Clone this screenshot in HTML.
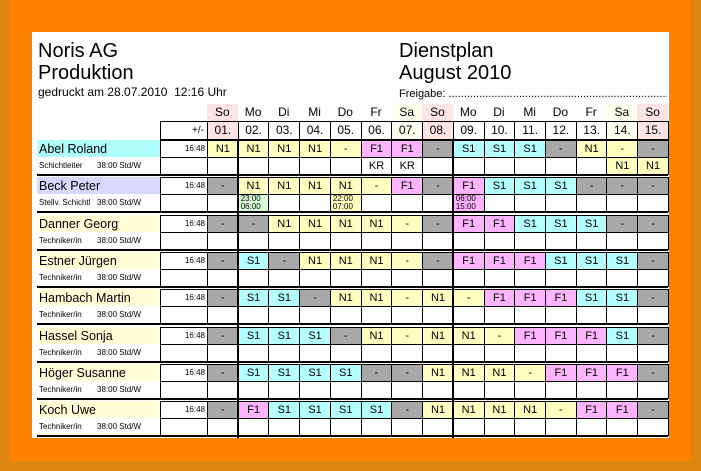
<!DOCTYPE html>
<html><head><meta charset="utf-8">
<style>
body{margin:0;width:701px;height:471px;background:#dc870f;position:relative;overflow:hidden;font-family:"Liberation Sans",sans-serif;}
#orange{position:absolute;left:10px;top:0px;width:681px;height:461px;background:#ff8200;}
#page{position:absolute;left:32px;top:32px;width:637px;height:406px;background:#fff;overflow:hidden;}
.a{position:absolute;box-sizing:border-box;}
.c{position:absolute;box-sizing:border-box;text-align:center;font-size:11px;color:#000;}
</style></head><body>
<div id="orange"></div>
<div id="page">
<div class="a" style="left:6px;top:8px;font-size:20px;line-height:22px">Noris AG<br>Produktion</div>
<div class="a" style="left:6px;top:53px;font-size:12px">gedruckt am 28.07.2010&nbsp; 12:16 Uhr</div>
<div class="a" style="left:367px;top:8px;font-size:20px;line-height:22px">Dienstplan<br>August 2010</div>
<div class="a" style="left:367px;top:56px;font-size:11px;width:268px;white-space:nowrap;overflow:hidden">Freigabe: ..............................................................................</div>
</div>
<script>
const days=["So","Mo","Di","Mi","Do","Fr","Sa","So","Mo","Di","Mi","Do","Fr","Sa","So"];
const dates=["01.","02.","03.","04.","05.","06.","07.","08.","09.","10.","11.","12.","13.","14.","15."];
const names=["Abel Roland","Beck Peter","Danner Georg","Estner Jürgen","Hambach Martin","Hassel Sonja","Höger Susanne","Koch Uwe"];
const roles=["Schichtleiter","Stellv. Schichtl","Techniker/in","Techniker/in","Techniker/in","Techniker/in","Techniker/in","Techniker/in"];
const balances=["16:48","16:48","16:48","16:48","16:48","16:48","16:48","16:48"];
// "-" = off (gray), "x" = rest dash (yellow)
const shifts=[
["N1","N1","N1","N1","x","F1","F1","-","S1","S1","S1","-","N1","x","-"],
["-","N1","N1","N1","N1","x","F1","-","F1","S1","S1","S1","-","-","-"],
["-","-","N1","N1","N1","N1","x","-","F1","F1","S1","S1","S1","-","-"],
["-","S1","-","N1","N1","N1","x","-","F1","F1","F1","S1","S1","S1","-"],
["-","S1","S1","-","N1","N1","x","N1","x","F1","F1","F1","S1","S1","-"],
["-","S1","S1","S1","-","N1","x","N1","N1","x","F1","F1","F1","S1","-"],
["-","S1","S1","S1","S1","-","-","N1","N1","N1","x","F1","F1","F1","-"],
["-","F1","S1","S1","S1","S1","-","N1","N1","N1","N1","x","F1","F1","-"]];
const notes=[[0,5,"KR"],[0,6,"KR"],[0,13,"N1"],[0,14,"N1"],[1,1,"23:00 06:00"],[1,4,"22:00 07:00"],[1,8,"06:00 15:00"]];
const page=document.getElementById('page');
const OX=-32,OY=-32,X0=207,CW=30.73,HX=160;
const col={N1:"#ffffc0",S1:"#b4ffff",F1:"#ffb4ff","-":"#a8a8a8",x:"#ffffc0",KR:"#fff"};
const nameBg=["#b0ffff","#d8d8ff","#ffffd8","#ffffd8","#ffffd8","#ffffd8","#ffffd8","#ffffd8"];
function mk(x,y,w,h,css,txt){const d=document.createElement('div');d.className='c';d.style.cssText=`left:${x+OX}px;top:${y+OY}px;width:${w}px;height:${h}px;`+css;if(txt!==undefined)d.innerHTML=txt;page.appendChild(d);return d;}
function xs(i){return X0+i*CW;}
function dayTint(i){return days[i]=="So"?"#fde4e4":days[i]=="Sa"?"#fffff0":"#fff";}
for(let i=0;i<15;i++){
 const d=mk(xs(i),104,CW,17,`background:${dayTint(i)};font-size:12px;line-height:17px;`,days[i]);
 
 
 const e=mk(xs(i),121,CW+1,19,`background:${dayTint(i)};border:1px solid #000;font-size:12px;line-height:17px;`,dates[i]);
 
 
}
const pm=mk(HX,121,48,19,"border:1px solid #000;text-align:right;padding-right:3px;font-size:10px;line-height:17px;","+/-");


for(let r=0;r<names.length;r++){
 const y0=140+r*37.3;
 const nm=mk(37,y0,123,17,`background:${nameBg[r]};text-align:left;padding-left:2px;font-size:12.5px;line-height:19px;`,names[r]);
 
 
 const rl=mk(37,y0+17,123,17,"text-align:left;padding-left:2px;font-size:8px;line-height:17px;white-space:nowrap;",roles[r]+'<span style="position:absolute;left:60px">38:00 Std/W</span>');
 
 
 const b=mk(HX,y0,48,18,"border:1px solid #000;text-align:right;padding-right:2px;font-size:8px;line-height:16px;",balances[r]);
 
 
 const b2=mk(HX,y0+17,48,18,"border:1px solid #000;");
 
 
 for(let i=0;i<15;i++){
  const s=shifts[r][i];
  const c=mk(xs(i),y0,CW+1,18,`background:${col[s]};border:1px solid #000;font-size:11px;line-height:16px;`,s=="x"?"-":s);
  
  
  const n=notes.find(q=>q[0]==r&&q[1]==i);
  let bg="#fff",txt="",css="";
  if(n){txt=n[2];
   if(txt.includes(":")){bg=shifts[r][i]=="F1"?"#ffb4ff":(i==1?"#d8ffd8":"#ffffc0");txt=txt.replace(" ","<br>");css="font-size:8px;line-height:8px;text-align:left;padding-left:2px;";}
   else{bg=col[txt];css="font-size:11px;line-height:16px;";}}
  const c2=mk(xs(i),y0+17,CW+1,18,`background:${bg};border:1px solid #000;`+css,txt);
  
  
 }
 const ln=mk(37,y0+34,631,2,"background:#000;");
 
 
 const ln2=mk(37,y0+37.3,631,1,"background:#000;");
 
 
}
[1,8].forEach(i=>{const v=mk(xs(i)-1,140,2,300,"background:#000;");
 
 });
</script>
</body></html>
